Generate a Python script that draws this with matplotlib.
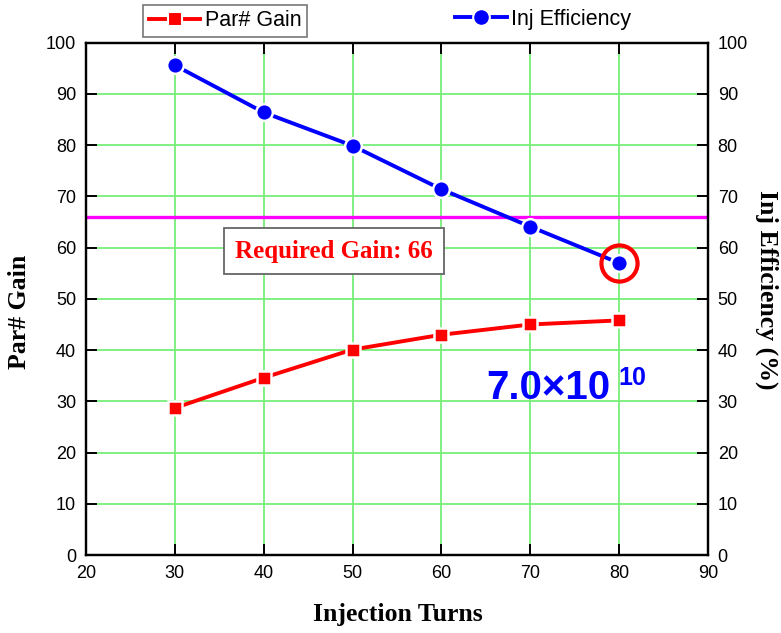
import numpy as np
import matplotlib
matplotlib.use("Agg")
import matplotlib.pyplot as plt
from matplotlib.lines import Line2D

# data
turns = [30, 40, 50, 60, 70, 80]
gain = [28.7, 34.6, 40.1, 43.0, 45.0, 45.8]
inj_eff = [95.6, 86.4, 79.9, 71.4, 64.1, 57.0]
required_gain = 66
x_ticks = [20, 30, 40, 50, 60, 70, 80, 90]
y_ticks = [0, 10, 20, 30, 40, 50, 60, 70, 80, 90, 100]

plt.rcParams['font.family'] = ['Liberation Sans', 'DejaVu Sans']

fig = plt.figure(figsize=(7.81, 6.33), dpi=100)
ax = fig.add_axes([0.110, 0.1232, 0.7965, 0.8093])
ax2 = ax.twinx()

grid_col = '#77ee77'
for t in x_ticks[1:-1]:
    ax.axvline(t, color=grid_col, lw=1.3, zorder=0)
for t in y_ticks[1:-1]:
    ax.axhline(t, color=grid_col, lw=1.3, zorder=0)

ax.axhline(required_gain, color='#ff00ff', lw=2.4, zorder=2)

ax.plot(turns, gain, color='red', lw=2.8, marker='s', ms=10,
        mfc='red', mec='white', mew=1.8, zorder=4)
ax2.plot(turns, inj_eff, color='blue', lw=2.8, marker='o', ms=12,
         mfc='blue', mec='white', mew=1.8, zorder=4)
# highlight last efficiency point
ax2.plot(turns[-1], inj_eff[-1], marker='o', ms=26, mfc='none',
         mec='red', mew=3, zorder=5)

for a in (ax, ax2):
    a.set_xlim(20, 90)
    a.set_ylim(0, 100)
    a.set_yticks(y_ticks)
    for s in a.spines.values():
        s.set_linewidth(1.6)
ax.set_xticks(x_ticks)
ax.tick_params(axis='both', direction='in', length=8, width=1.4,
               labelsize=13, pad=7, top=True)
ax2.tick_params(axis='y', direction='in', length=8, width=1.4,
                labelsize=13, pad=7)

# axis titles
lab = dict(family='Liberation Serif', weight='bold', fontsize=18.5,
           ha='center', va='center')
ax.text(0.502, -0.117, 'Injection Turns', transform=ax.transAxes, **lab)
ax.text(-0.106, 0.474, 'Par# Gain', rotation=90, transform=ax.transAxes, **lab)
ax.text(1.095, 0.517, 'Inj Efficiency (%)', rotation=270,
        transform=ax.transAxes, **lab)

ax.text(47.9, 59.3, 'Required Gain: 66', family='Liberation Serif',
        weight='bold', fontsize=18, color='red', ha='center', va='center',
        zorder=6,
        bbox=dict(boxstyle='square,pad=0.45', fc='white', ec='#666666', lw=1.3))

ax.text(65.1, 30.4, '7.0\u00d710', color='blue', weight='bold', fontsize=29,
        ha='left', va='baseline', zorder=6)
ax.text(79.9, 33.2, '10', color='blue', weight='bold', fontsize=18,
        ha='left', va='baseline', zorder=6)

h1 = Line2D([], [], color='red', lw=2.8, marker='s', ms=10, mfc='red',
            mec='white', mew=1.5)
h2 = Line2D([], [], color='blue', lw=2.8, marker='o', ms=12, mfc='blue',
            mec='white', mew=1.5)
leg1 = fig.legend([h1], ['Par# Gain'], loc='center',
                  bbox_to_anchor=(225 / 781, 1 - 21 / 633), fontsize=15.5,
                  frameon=True, fancybox=False, edgecolor='#555555',
                  handlelength=2.4, handletextpad=0.2, borderpad=0.25)
leg1.get_frame().set_linewidth(1.2)
fig.legend([h2], ['Inj Efficiency'], loc='center',
           bbox_to_anchor=(543 / 781, 1 - 19 / 633), fontsize=15.5,
           frameon=False, handlelength=2.4, handletextpad=0.2)

fig.savefig('out.png', dpi=100)
